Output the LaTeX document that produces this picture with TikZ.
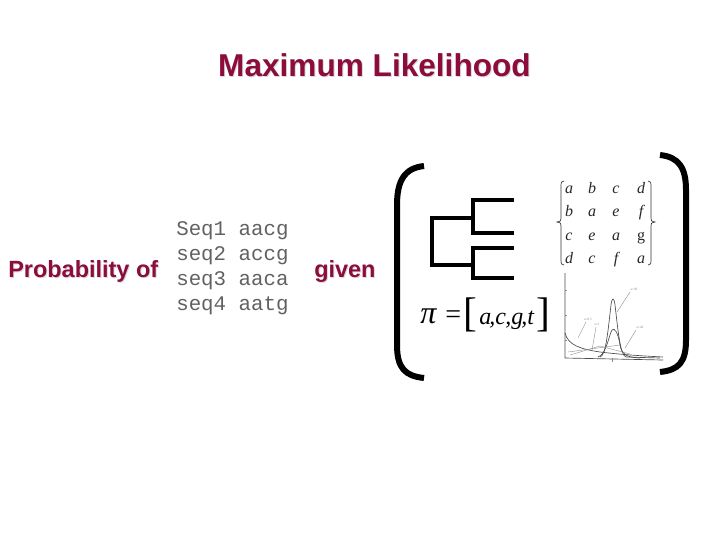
\documentclass[tikz,border=0pt]{standalone}
\usepackage{fontspec}
\setmainfont{Liberation Serif}
\newfontfamily\arialb{Liberation Sans}[BoldFont={* Bold}]
\newfontfamily\cour{Liberation Mono}
\definecolor{maroon}{RGB}{140,12,60}
\definecolor{shad}{RGB}{215,215,215}
\tikzset{
  redtxt/.style={text=maroon, font=\arialb\bfseries\fontsize{17.6}{20}\selectfont, inner sep=0pt},
  shadtxt/.style={text=shad, font=\arialb\bfseries\fontsize{17.6}{20}\selectfont, inner sep=0pt},
  seqtxt/.style={text=black!62, font=\cour\fontsize{15.6}{18}\selectfont, inner sep=0pt, anchor=west},
  bigbr/.style={line width=4.5pt, black},
  treeln/.style={line width=3pt, black, line cap=rect},
  mtx/.style={text=black!85, font=\itshape\fontsize{12}{14}\selectfont, inner sep=0pt, anchor=base},
  eqtxt/.style={inner sep=0pt, anchor=base west, text=black},
  eqlet/.style={inner sep=0pt, anchor=base west, text=black, font=\itshape\fontsize{18}{22}\selectfont},
  plotln/.style={line width=0.5pt, black!70},
  thinln/.style={line width=0.3pt, black!45},
  tinytxt/.style={inner sep=0pt, font=\fontsize{2.5}{3}\selectfont, text=black!50}
}
\begin{document}
\begin{tikzpicture}[x=0.75pt,y=-0.75pt]
\useasboundingbox (0,0) rectangle (720,540);
% title
\node[shadtxt, font=\arialb\bfseries\fontsize{23.7}{28}\selectfont] at (375.5,66) {Maximum Likelihood};
\node[redtxt, font=\arialb\bfseries\fontsize{23.7}{28}\selectfont] (title) at (374.5,65) {Maximum Likelihood};
% probability of / given
\node[shadtxt, anchor=west] at (9,272) {Probability of};
\node[redtxt, anchor=west] (prob) at (8,271) {Probability of};
\node[shadtxt, anchor=west] at (315,272) {given};
\node[redtxt, anchor=west] (given) at (314,271) {given};
% sequences
\node[seqtxt] (s1) at (176,231) {Seq1 aacg};
\node[seqtxt] (s2) at (176,256) {seq2 accg};
\node[seqtxt] (s3) at (176,281) {seq3 aaca};
\node[seqtxt] (s4) at (176,306) {seq4 aatg};
% big brackets
\draw[bigbr] (424,166) .. controls (405,168) and (397,180) .. (397,205) -- (397,345) .. controls (397,368) and (405,376) .. (424,378);
\draw[bigbr] (660,155) .. controls (679,157) and (686,168) .. (686,190) -- (686,340) .. controls (686,362) and (679,370) .. (660,372);
% tree
\draw[treeln] (473,200) -- (512,200);
\draw[treeln] (473,233) -- (512,233);
\draw[treeln] (473,248) -- (512,248);
\draw[treeln] (473,278) -- (512,278);
\draw[treeln] (473,200) -- (473,233);
\draw[treeln] (473,248) -- (473,278);
\draw[treeln] (432,218) -- (473,218);
\draw[treeln] (432,265) -- (473,265);
\draw[treeln] (432,218) -- (432,265);
% matrix
\node[mtx] (m11) at (569,193) {a};
\node[mtx] (m12) at (592,193) {b};
\node[mtx] (m13) at (616,193) {c};
\node[mtx] (m14) at (641,193) {d};
\node[mtx] (m21) at (569,216) {b};
\node[mtx] (m22) at (592,216) {a};
\node[mtx] (m23) at (616,216) {e};
\node[mtx] (m24) at (641,216) {f};
\node[mtx] (m31) at (569,240) {c};
\node[mtx] (m32) at (592,240) {e};
\node[mtx] (m33) at (616,240) {a};
\node[mtx,font=\fontsize{12}{14}\selectfont] (m34) at (641,240) {g};
\node[mtx] (m41) at (569,263) {d};
\node[mtx] (m42) at (592,263) {c};
\node[mtx] (m43) at (616,263) {f};
\node[mtx] (m44) at (641,263) {a};
\draw[line width=0.5pt, black!80] (564,181) .. controls (561,182) .. (561,185) -- (561,218) .. controls (561,221) .. (557,222) .. controls (561,223) .. (561,226) -- (561,261) .. controls (561,264) .. (564,265);
\draw[line width=0.5pt, black!80] (648,181) .. controls (651,182) .. (651,185) -- (651,218) .. controls (651,221) .. (655,222) .. controls (651,223) .. (651,226) -- (651,261) .. controls (651,264) .. (648,265);
% pi = [a,c,g,t]
\node[eqtxt, font=\itshape\fontsize{24}{28}\selectfont] (pi) at (420,323) {π};
\node[eqtxt, font=\fontsize{21}{26}\selectfont] (eq) at (445,323) {=};
\node[eqtxt, font=\fontsize{31}{36}\selectfont] (lb) at (463,326) {[};
\node[eqlet] (la) at (479,324) {a};
\node[eqlet] (c1) at (489,324) {,};
\node[eqlet] (lc) at (495,324) {c};
\node[eqlet] (c2) at (505,324) {,};
\node[eqlet] (lg) at (511,324) {g};
\node[eqlet] (c3) at (521,324) {,};
\node[eqlet] (lt) at (527,324) {t};
\node[eqtxt, font=\fontsize{31}{36}\selectfont] (rb) at (536,326) {]};
% plot
\draw[plotln] (565,273) -- (565,358) -- (663,360);
\foreach \yy in {290,315,340}{\draw[thinln] (565,\yy) -- (567,\yy);}
\draw[thinln] (612,358) -- (612,362);
\draw[plotln] (565,333) .. controls (568,345) and (580,349) .. (600,352) .. controls (625,355) and (645,356) .. (663,357);
\draw[plotln] (600,357) .. controls (606,356) and (608,330) .. (611,305) .. controls (612,297) and (614,297) .. (615,305) .. controls (618,330) and (620,355) .. (626,357) -- (660,358);
\draw[plotln] (598,357) .. controls (606,355) and (609,335) .. (612,330) .. controls (614,327) and (618,332) .. (620,345) .. controls (622,355) and (626,357) .. (640,358);
\draw[thinln] (568,352) -- (620,345);
\draw[thinln] (570,355) -- (600,346) -- (630,354);
\draw[thinln] (578,338) -- (586,322);
\draw[thinln] (592,350) -- (596,327);
\draw[thinln] (617,312) -- (630,292);
\draw[thinln] (625,348) -- (636,330);
\node[tinytxt] (l1) at (588,319) {a=0.5};
\node[tinytxt] (l2) at (597,324) {a=1};
\node[tinytxt] (l3) at (634,289) {a=50};
\node[tinytxt] (l4) at (640,327) {a=20};
\end{tikzpicture}
\end{document}
